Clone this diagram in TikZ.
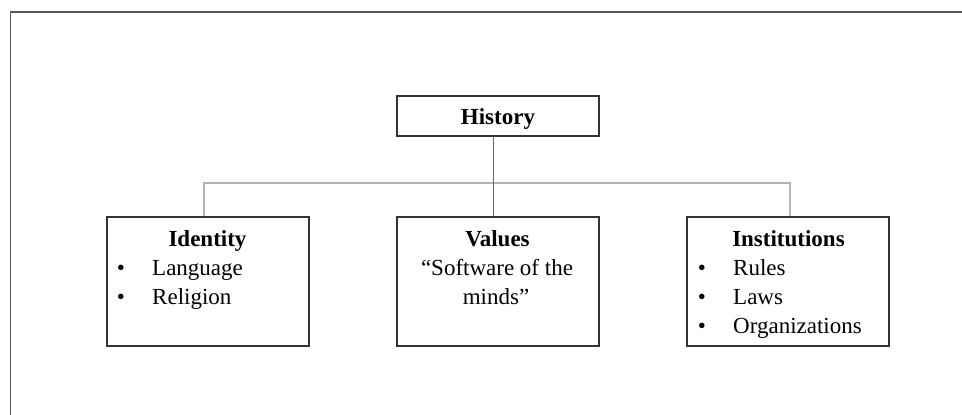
\documentclass[tikz,border=0pt]{standalone}
\usepackage{fontspec}
\setmainfont{Liberation Serif}
\begin{document}
\begin{tikzpicture}[x=1pt,y=-1pt,
  frameline/.style={draw=black!65,line width=1.6pt},
  box/.style={draw=black!80,line width=1.8pt,minimum width=202pt,inner sep=0pt},
  bus/.style={draw=black!30,line width=1.2pt},
  stem/.style={draw=black!60,line width=0.9pt},
  txt/.style={inner sep=0pt,font=\fontsize{23}{29}\selectfont},
  ttl/.style={txt,font=\fontsize{23}{29}\selectfont\bfseries,anchor=base},
  item/.style={txt,anchor=base west},
  dot/.style={txt,anchor=base}]
\useasboundingbox (0,0) rectangle (962,415);
% page frame (top and left edges)
\draw[frameline] (962,12) -- (10.5,12) -- (10.5,415);

% boxes
\node[box,minimum height=40pt] (hist) at (498,116) {};
\node[box,minimum height=129pt] (ident) at (208,281.5) {};
\node[box,minimum height=129pt] (vals) at (498,281.5) {};
\node[box,minimum height=129pt] (inst) at (788,281.5) {};

% connectors
\coordinate (busL) at (204,183);
\coordinate (busR) at (790,183);
\draw[bus] (ident.north -| busL) -- (busL) -- (busR) -- (inst.north -| busR);
\draw[stem] ([xshift=-5pt]hist.south) -- ([xshift=-5pt]hist.south |- vals.north);

% titles
\node[ttl] (histT) at (498,124) {History};
\node[ttl] (identT) at (207.5,246) {Identity};
\node[ttl] (valsT) at (497.5,246) {Values};
\node[ttl] (instT) at (788.5,246) {Institutions};

% Identity items
\node[dot] (b1) at (121,275) {•};
\node[item] (i1) at (152,275) {Language};
\node[dot] (b2) at (121,304) {•};
\node[item] (i2) at (152,304) {Religion};

% Values text
\node[txt,anchor=base] (v1) at (497,275) {“Software of the};
\node[txt,anchor=base] (v2) at (496,304) {minds”};

% Institutions items
\node[dot] (c1) at (702,275) {•};
\node[item] (n1) at (733,275) {Rules};
\node[dot] (c2) at (702,304) {•};
\node[item] (n2) at (733,304) {Laws};
\node[dot] (c3) at (702,333) {•};
\node[item] (n3) at (733,333) {Organizations};
\end{tikzpicture}
\end{document}
